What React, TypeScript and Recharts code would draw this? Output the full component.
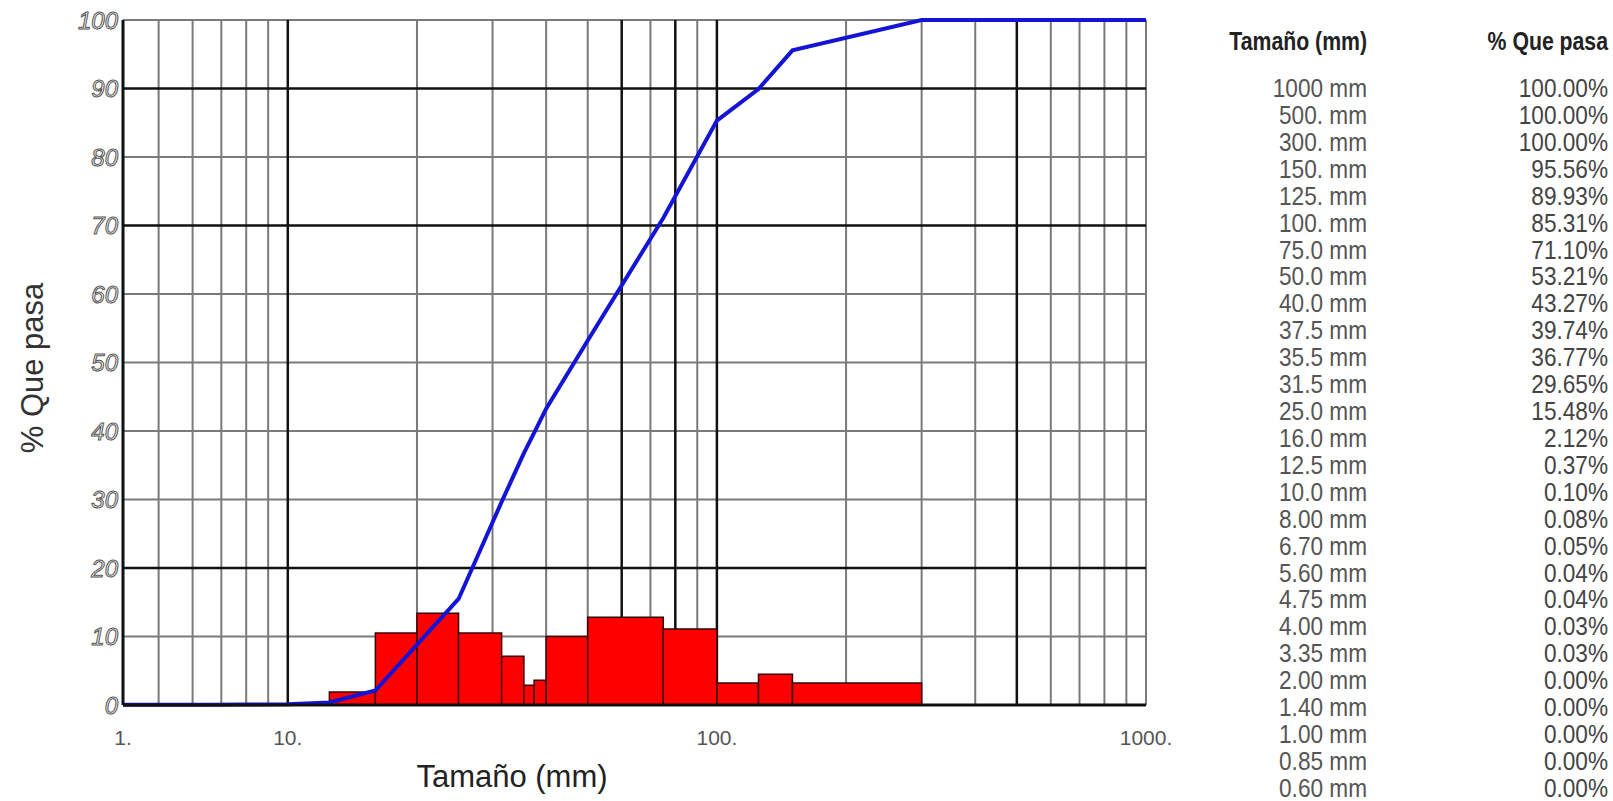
import { ComposedChart, Line, XAxis, YAxis, ReferenceLine, ReferenceArea } from 'recharts';

// tabla de granulometría (de mayor a menor)
const sizeLabels = [
  '1000 mm', '500. mm', '300. mm', '150. mm', '125. mm', '100. mm', '75.0 mm', '50.0 mm', '40.0 mm',
  '37.5 mm', '35.5 mm', '31.5 mm', '25.0 mm', '16.0 mm', '12.5 mm', '10.0 mm', '8.00 mm', '6.70 mm',
  '5.60 mm', '4.75 mm', '4.00 mm', '3.35 mm', '2.00 mm', '1.40 mm', '1.00 mm', '0.85 mm', '0.60 mm',
];
const sizesMm = [
  1000, 500, 300, 150, 125, 100, 75, 50, 40, 37.5, 35.5, 31.5, 25, 16, 12.5, 10, 8, 6.7, 5.6, 4.75, 4,
  3.35, 2, 1.4, 1, 0.85, 0.6,
];
const passing = [
  100, 100, 100, 95.56, 89.93, 85.31, 71.1, 53.21, 43.27, 39.74, 36.77, 29.65, 15.48, 2.12, 0.37, 0.1,
  0.08, 0.05, 0.04, 0.04, 0.03, 0.03, 0, 0, 0, 0, 0,
];

// histograma
const binLow = [12.5, 16, 20, 25, 31.5, 35.5, 37.5, 40, 50, 75, 100, 125, 150];
const binHigh = [16, 20, 25, 31.5, 35.5, 37.5, 40, 50, 75, 100, 125, 150, 300];
const binHeight = [1.9, 10.5, 13.4, 10.5, 7.1, 2.9, 3.6, 10.0, 12.8, 11.1, 3.2, 4.5, 3.2];

// ejes
const xMin = 4.13;
const xTicks = [xMin, 10, 100, 1000];
const xTickLabels = ['1.', '10.', '100.', '1000.'];
const yTicks = [0, 10, 20, 30, 40, 50, 60, 70, 80, 90, 100];
const xGridLight = [5, 6, 7, 8, 9, 20, 30, 40, 50, 70, 90, 200, 300, 400, 600, 700, 800, 900, 1000];
const xGridDark = [10, 60, 80, 100, 500];
const yGridLight = [10, 30, 40, 50, 60, 80, 100];
const yGridDark = [20, 70, 90];

const FONT = '"Liberation Sans", Arial, sans-serif';

const curve = sizesMm
  .map((s, i) => ({ size: s, pass: passing[i] }))
  .reverse();

export default function App() {
  return (
    <div style={{ position: 'absolute', left: 0, top: 0, width: 1613, height: 801, background: '#fff' }}>
      <ComposedChart
        width={1180}
        height={801}
        data={curve}
        margin={{ top: 20, right: 34, bottom: 56, left: 53 }}
      >
        <XAxis
          dataKey="size"
          type="number"
          scale="log"
          domain={[xMin, 1000]}
          ticks={xTicks}
          interval={0}
          allowDataOverflow
          height={40}
          tickSize={0}
          tickMargin={25}
          tickLine={false}
          axisLine={{ stroke: '#111', strokeWidth: 3 }}
          tick={{ fontSize: 21, fill: '#555', fontFamily: FONT }}
          tickFormatter={(v: number) => xTickLabels[xTicks.indexOf(v)] ?? String(v)}
        />
        <YAxis
          type="number"
          domain={[0, 100]}
          ticks={yTicks}
          interval={0}
          width={70}
          tickSize={0}
          tickMargin={5}
          tickLine={false}
          axisLine={{ stroke: '#111', strokeWidth: 3 }}
          tick={{ fontSize: 24, fill: '#f2f2f2', stroke: '#555', strokeWidth: 1, fontStyle: 'italic', fontFamily: FONT }}
        />
        {yGridLight.map((v) => (
          <ReferenceLine key={'yl' + v} y={v} stroke="#7a7a7a" strokeWidth={2} zIndex={-100} />
        ))}
        {xGridLight.map((v) => (
          <ReferenceLine key={'xl' + v} x={v} stroke="#7a7a7a" strokeWidth={2} zIndex={-100} />
        ))}
        {yGridDark.map((v) => (
          <ReferenceLine key={'yd' + v} y={v} stroke="#111" strokeWidth={2.5} zIndex={-90} />
        ))}
        {xGridDark.map((v) => (
          <ReferenceLine key={'xd' + v} x={v} stroke="#111" strokeWidth={2.5} zIndex={-90} />
        ))}
        {binLow.map((lo, i) => (
          <ReferenceArea
            key={'b' + i}
            x1={lo}
            x2={binHigh[i]}
            y1={0}
            y2={binHeight[i]}
            fill="#ff0000"
            fillOpacity={1}
            stroke="#3a0000"
            strokeWidth={1.5}
            zIndex={100}
          />
        ))}
        <Line
          dataKey="pass"
          type="linear"
          stroke="#1414d6"
          strokeWidth={4}
          dot={false}
          activeDot={false}
          isAnimationActive={false}
        />
      </ComposedChart>

      <svg
        width={1613}
        height={801}
        style={{ position: 'absolute', left: 0, top: 0, pointerEvents: 'none' }}
        fontFamily={FONT}
      >
        <text x={32} y={368} fontSize={31} fill="#333" textAnchor="middle" dominantBaseline="central" transform="rotate(-90 32 368)">
          % Que pasa
        </text>
        <text x={512} y={787} fontSize={31} fill="#222" textAnchor="middle">
          Tamaño (mm)
        </text>

        <text transform="translate(1367 50) scale(0.85 1)" fontSize={25} fontWeight="bold" fill="#222" textAnchor="end">
          Tamaño (mm)
        </text>
        <text transform="translate(1608 50) scale(0.85 1)" fontSize={25} fontWeight="bold" fill="#222" textAnchor="end">
          % Que pasa
        </text>
        {sizeLabels.map((s, i) => (
          <text key={'s' + i} transform={`translate(1367 ${97 + i * 26.92}) scale(0.87 1)`} fontSize={26} fill="#555" textAnchor="end">
            {s}
          </text>
        ))}
        {passing.map((p, i) => (
          <text key={'p' + i} transform={`translate(1608 ${97 + i * 26.92}) scale(0.87 1)`} fontSize={26} fill="#444" textAnchor="end">
            {p.toFixed(2) + '%'}
          </text>
        ))}
      </svg>
    </div>
  );
}
